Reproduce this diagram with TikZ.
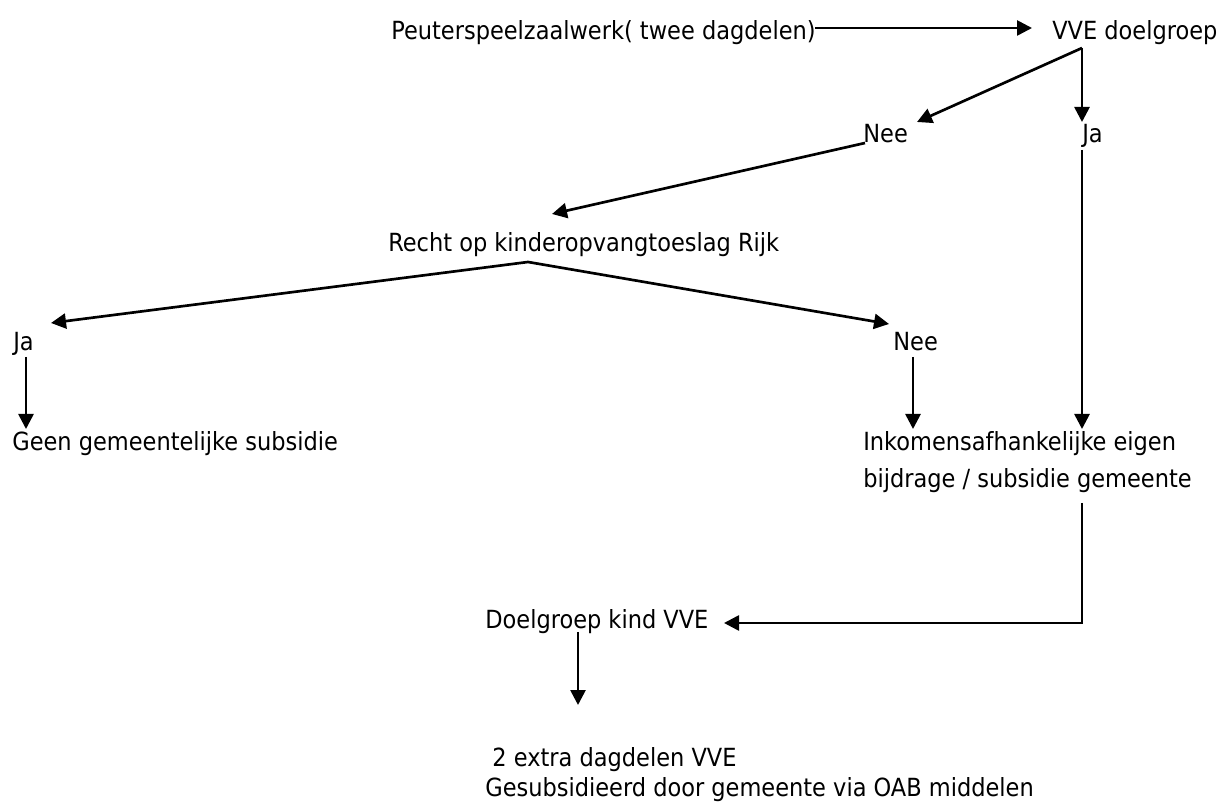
\documentclass[tikz,border=0pt]{standalone}
\usepackage{fontspec}
\setmainfont{DejaVu Sans Condensed}
\usetikzlibrary{arrows.meta}
\begin{document}
\begin{tikzpicture}[x=0.6pt,y=-0.6pt,
  lbl/.style={anchor=base west,inner sep=0pt,font=\fontsize{15}{18}\selectfont},
  conn/.style={line width=1.6pt,-{Triangle[length=9pt,width=9pt]}}]
\useasboundingbox (0,0) rectangle (1217,803);
% texts
\node[lbl] (peuter) at (391,40) {Peuterspeelzaalwerk( twee dagdelen)};
\node[lbl] (vve) at (1052,40) {VVE doelgroep};
\node[lbl] (nee1) at (863,143) {Nee};
\node[lbl] (ja1) at (1082,143) {Ja};
\node[lbl] (recht) at (388,252) {Recht op kinderopvangtoeslag Rijk};
\node[lbl] (ja2) at (13,351) {Ja};
\node[lbl] (nee2) at (893,351) {Nee};
\node[lbl] (geen) at (12,451) {Geen gemeentelijke subsidie};
\node[lbl] (ink1) at (863,451) {Inkomensafhankelijke eigen};
\node[lbl] (ink2) at (863,488) {bijdrage / subsidie gemeente};
\node[lbl] (doel) at (485,629) {Doelgroep kind VVE};
\node[lbl] (extra) at (485,766) {\ 2 extra dagdelen VVE};
\node[lbl] (gesub) at (485,796) {Gesubsidieerd door gemeente via OAB middelen};
% connector points
\coordinate (pA) at (815,28);
\coordinate (pB) at (1032,28);
\coordinate (vvs) at (1082,48);
\coordinate (nee1t) at (917,122);
\coordinate (ja1t) at (1082,122);
\coordinate (nee1s) at (865,143);
\coordinate (rechtt) at (552,214);
\coordinate (rechts) at (528,262);
\coordinate (ja2t) at (51,323);
\coordinate (nee2t) at (889,324);
\coordinate (ja2s) at (26,357);
\coordinate (geent) at (26,429);
\coordinate (nee2s) at (913,357);
\coordinate (ink1t) at (913,429);
\coordinate (ja1s) at (1082,150);
\coordinate (ink1t2) at (1082,429);
\coordinate (ink2s) at (1082,503);
\coordinate (corner) at (1082,623);
\coordinate (doelt) at (724,623);
\coordinate (doels) at (578,632);
\coordinate (extrat) at (578,705);
% connectors
\draw[conn] (pA) -- (pB);
\draw[conn] (vvs) -- (nee1t);
\draw[conn] (vvs) -- (ja1t);
\draw[conn] (nee1s) -- (rechtt);
\draw[conn] (rechts) -- (ja2t);
\draw[conn] (rechts) -- (nee2t);
\draw[conn] (ja2s) -- (geent);
\draw[conn] (nee2s) -- (ink1t);
\draw[conn] (ja1s) -- (ink1t2);
\draw[conn] (ink2s) -- (corner) -- (doelt);
\draw[conn] (doels) -- (extrat);
\end{tikzpicture}
\end{document}
